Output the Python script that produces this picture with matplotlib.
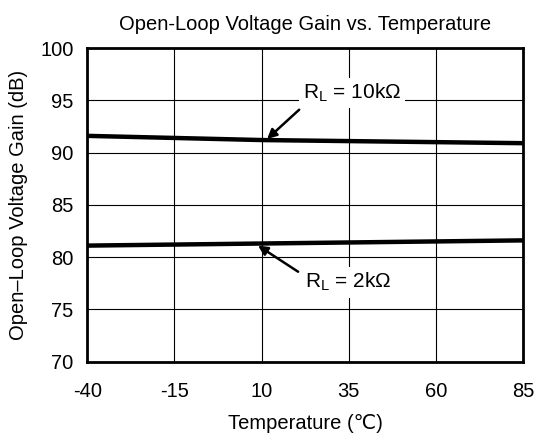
import numpy as np
import matplotlib.pyplot as plt

plt.rcParams['font.family'] = ['Liberation Sans', 'DejaVu Sans']

temp = [-40, -15, 10, 35, 60, 85]
gain_10k = [91.6, 91.4, 91.2, 91.1, 91.0, 90.9]
gain_2k = [81.1, 81.2, 81.3, 81.4, 81.5, 81.6]

fig, ax = plt.subplots(figsize=(5.39, 4.41), dpi=100)
fig.subplots_adjust(left=0.162, right=0.970, top=0.891, bottom=0.180)

ax.plot(temp, gain_10k, color='black', lw=3.2, solid_capstyle='butt', zorder=3)
ax.plot(temp, gain_2k, color='black', lw=3.2, solid_capstyle='butt', zorder=3)

ax.set_xlim(-40, 85)
ax.set_ylim(70, 100)
ax.set_xticks(temp)
ax.set_xticklabels(['-40', '-15', '10', '35', '60', '85'])
ax.set_yticks(np.arange(70, 101, 5))
ax.grid(True, color='black', lw=0.8)
ax.tick_params(length=0, labelsize=14.5)
ax.tick_params(axis='x', pad=15)
ax.tick_params(axis='y', pad=10)
for s in ax.spines.values():
    s.set_linewidth(2)

ax.set_title('Open-Loop Voltage Gain vs. Temperature', fontsize=14.5, pad=13)
ax.set_xlabel('Temperature (\u2103)', fontsize=14.5, labelpad=9)
ax.set_ylabel('Open\u2013Loop Voltage Gain (dB)', fontsize=14.5, labelpad=9)

box = dict(boxstyle='square,pad=0.2', fc='white', ec='none')
arrow = dict(arrowstyle='-|>', color='black', lw=1.8, mutation_scale=14,
             shrinkA=0, shrinkB=0)

ax.text(21.9, 95.7, 'R$_\\mathregular{L}$ = 10k\u03a9', fontsize=15,
        ha='left', va='center', bbox=box, zorder=4)
ax.annotate('', xy=(11.6, 91.3), xytext=(20.8, 94.1), arrowprops=arrow, zorder=4)

ax.text(22.5, 77.6, 'R$_\\mathregular{L}$ = 2k\u03a9', fontsize=15,
        ha='left', va='center', bbox=box, zorder=4)
ax.annotate('', xy=(9.0, 81.1), xytext=(20.5, 78.6), arrowprops=arrow, zorder=4)

fig.savefig('out.png', dpi=100)
